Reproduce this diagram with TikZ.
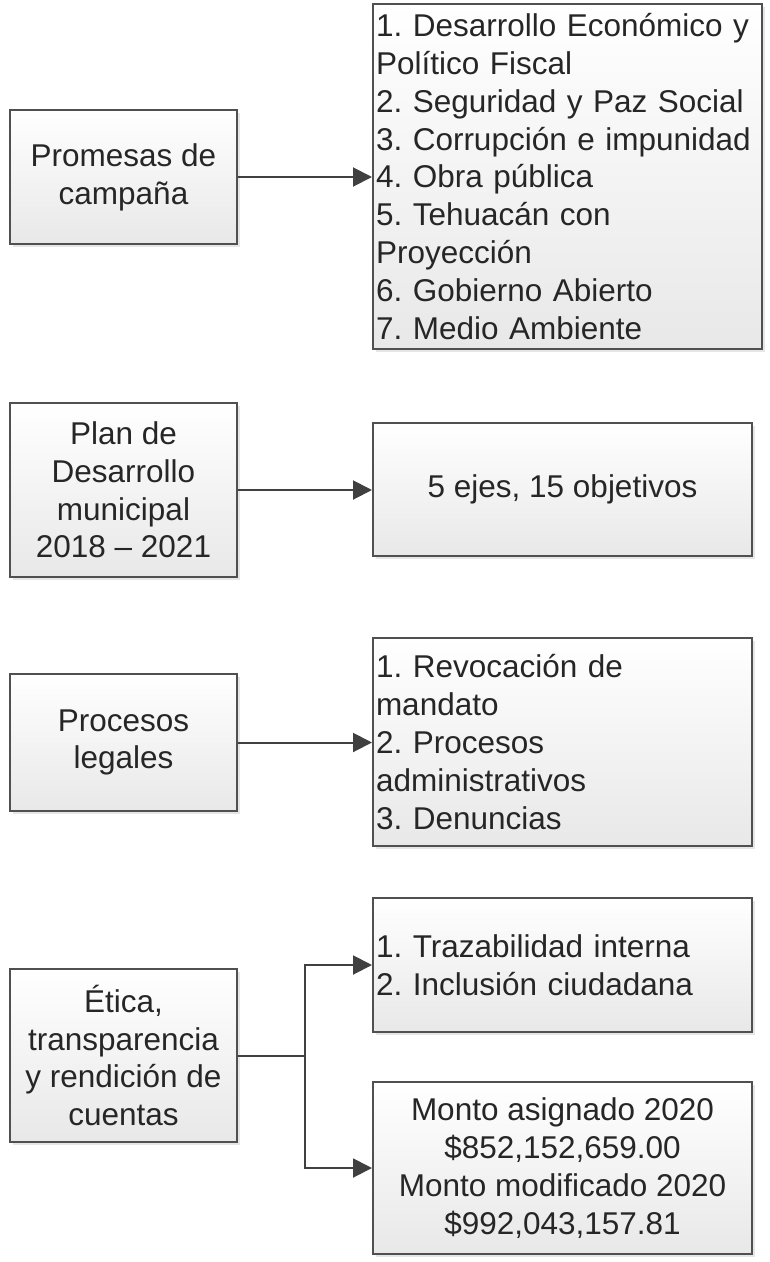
\documentclass[tikz,border=0pt]{standalone}
\usepackage{fontspec}
\setmainfont{Liberation Sans}
\usetikzlibrary{arrows.meta,shadows}

\definecolor{boxline}{HTML}{505050}
\definecolor{boxtext}{HTML}{262626}
\definecolor{linkline}{HTML}{404040}

\begin{document}
\begin{tikzpicture}[x=1pt, y=-1pt,
	box/.style={draw=boxline, line width=2pt, top color=white, bottom color=black!9,
		drop shadow={shadow xshift=3pt, shadow yshift=-3pt, opacity=0.2},
		text=boxtext, font=\fontsize{31.5}{37.8}\selectfont\frenchspacing,
		inner xsep=3pt, inner ysep=0pt, align=center},
	leftbox/.style={box, minimum width=227pt},
	listbox/.style={box, align=left, text width=373pt},
	conn/.style={draw=linkline, line width=2pt, -{Triangle[length=19pt, width=19pt]}},
	link/.style={draw=linkline, line width=2pt}]

	\useasboundingbox (0,0) rectangle (769,1262);

	%campaign promises
	\node[leftbox, minimum height=134pt] (pc) at (123.5,177) {Promesas de\\campaña};
	\node[listbox, text width=383pt, minimum height=345pt] (ps) at (567.5,176.5)
		{1. Desarrollo Económico y\\Político Fiscal\\2. Seguridad y Paz Social\\3. Corrupción e impunidad\\4. Obra pública\\5. Tehuacán con\\Proyección\\6. Gobierno Abierto\\7. Medio Ambiente};
	\draw[conn] (pc.east) -- (pc.east -| ps.west);

	%development plan
	\node[leftbox, minimum height=174pt] (pd) at (123.5,490) {Plan de\\Desarrollo\\municipal\\2018 – 2021};
	\node[box, minimum width=379pt, minimum height=133pt] (ej) at (562.5,489.5) {5 ejes, 15 objetivos};
	\draw[conn] (pd.east) -- (pd.east -| ej.west);

	%legal processes
	\node[leftbox, minimum height=137pt] (pl) at (123.5,742.5) {Procesos\\legales};
	\node[listbox, minimum height=208pt] (pr) at (562.5,742)
		{1. Revocación de\\mandato\\2. Procesos\\administrativos\\3. Denuncias};
	\draw[conn] (pl.east) -- (pl.east -| pr.west);

	%ethics and accountability
	\node[leftbox, minimum height=173pt] (et) at (123.5,1055.5) {Ética,\\transparencia\\y rendición de\\cuentas};
	\node[listbox, minimum height=134pt] (tr) at (562.5,965) {1. Trazabilidad interna\\2. Inclusión ciudadana};
	\node[box, minimum width=379pt, minimum height=172pt] (mo) at (562.5,1168)
		{Monto asignado 2020\\\$852,152,659.00\\Monto modificado 2020\\\$992,043,157.81};
	\coordinate (split) at (305,1055.5);
	\draw[link] (et.east) -- (split);
	\draw[conn] (split) |- (tr.west);
	\draw[conn] (split) |- (mo.west);

\end{tikzpicture}
\end{document}
